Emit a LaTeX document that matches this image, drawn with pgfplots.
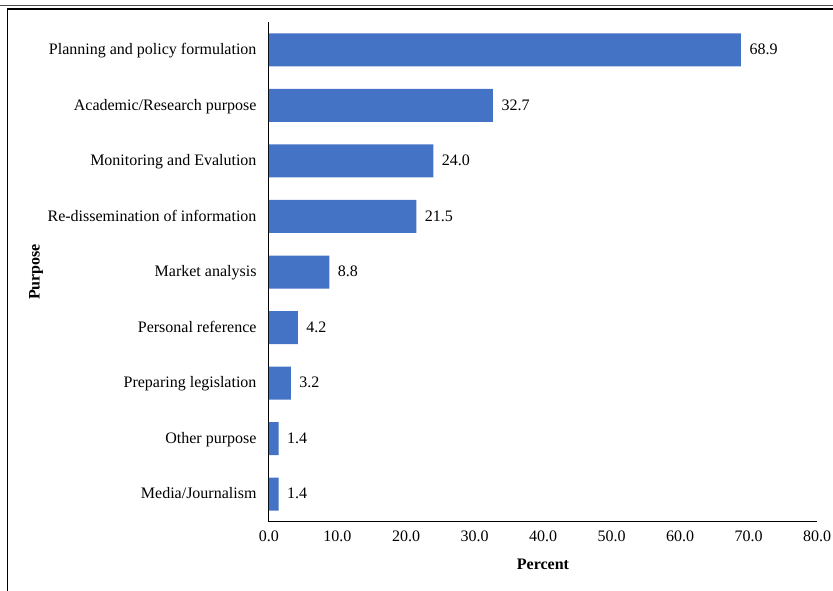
\documentclass[border=0pt]{standalone}
\usepackage{pgfplots}
\pgfplotsset{compat=1.18}
\usepackage{fontspec}
\setmainfont{Liberation Serif}
\definecolor{barblue}{HTML}{4472C4}
\begin{document}
\begin{tikzpicture}[x=1pt,y=1pt]
\path[use as bounding box] (0,0) rectangle (833,591);
\draw[line width=1pt,black!70] (0,585) -- (833,585);
\draw[line width=1.6pt,black] (7,582) -- (833,582);
\draw[line width=1pt,black] (7,582) -- (7,0);
\begin{axis}[
  at={(269pt,69pt)}, anchor=south west,
  scale only axis, width=548pt, height=500pt,
  xbar, bar width=33pt,
  xmin=0, xmax=80, ymin=-0.5, ymax=8.5,
  axis x line*=bottom, axis y line*=left,
  axis line style={line width=1pt},
  xtick={0,10,...,80}, ytick={0,...,8},
  major tick length=0pt,
  yticklabels={Media/Journalism,Other purpose,Preparing legislation,Personal reference,Market analysis,Re-dissemination of information,Monitoring and Evalution,Academic/Research purpose,Planning and policy formulation},
  xticklabel style={/pgf/number format/fixed,/pgf/number format/fixed zerofill,/pgf/number format/precision=1, yshift=-5pt},
  /pgf/number format/assume math mode=true,
  ticklabel style={font=\fontsize{16}{18}\selectfont},
  yticklabel style={xshift=-9pt, text height=11pt, text depth=3.5pt, yshift=-1pt},
  xlabel={\textbf{Percent}}, ylabel={\textbf{Purpose}},
  label style={font=\fontsize{16}{18}\selectfont},
  xlabel style={at={(rel axis cs:0.5,0)}, anchor=center, yshift=-42pt},
  ylabel style={at={(-233pt,250pt)}, anchor=center},
  nodes near coords, nodes near coords align={horizontal},
  every node near coord/.append style={font=\fontsize{16}{18}\selectfont, xshift=5pt, text height=11pt, text depth=3.5pt, yshift=-1pt, /pgf/number format/fixed, /pgf/number format/fixed zerofill, /pgf/number format/precision=1},
]
\addplot[fill=barblue, draw=none] coordinates {
(1.4,0) (1.4,1) (3.2,2) (4.2,3) (8.8,4) (21.5,5) (24.0,6) (32.7,7) (68.9,8)};
\end{axis}
\end{tikzpicture}
\end{document}
